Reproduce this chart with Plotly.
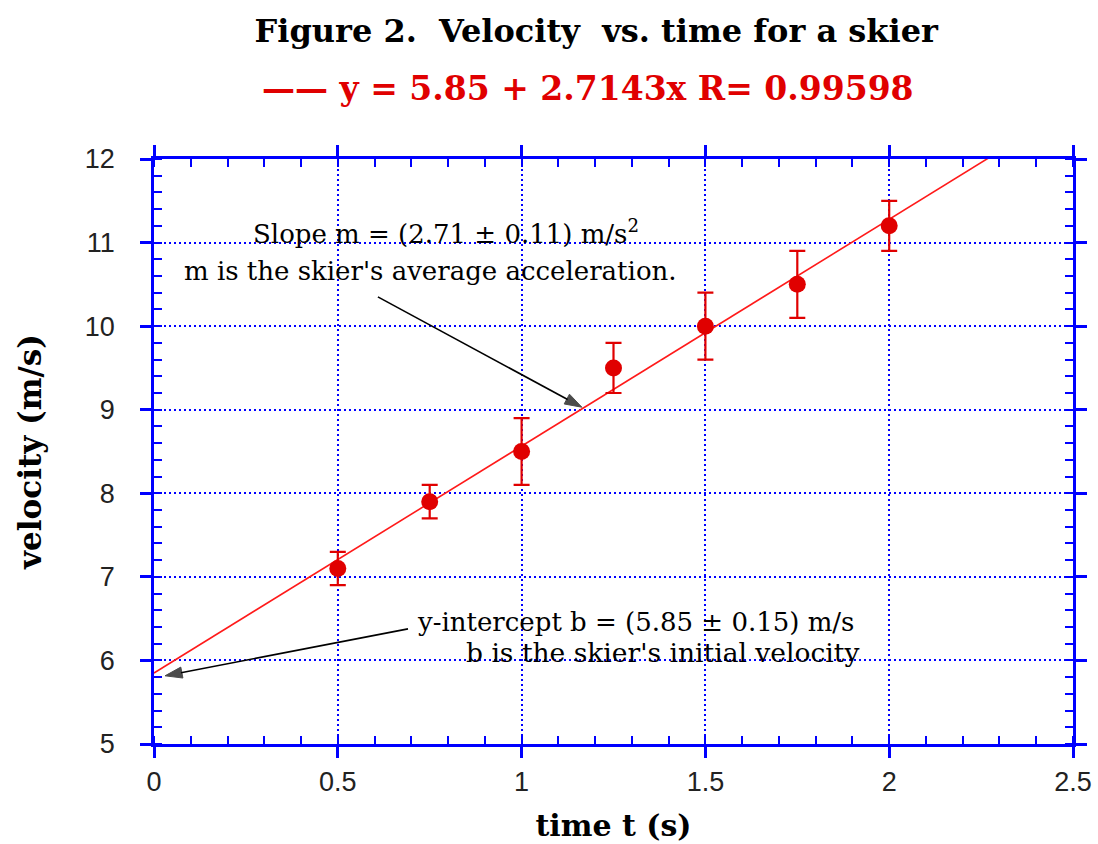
import plotly.graph_objects as go

# ---- data ----
time_s = [0.5, 0.75, 1.0, 1.25, 1.5, 1.75, 2.0]
velocity = [7.1, 7.9, 8.5, 9.5, 10.0, 10.5, 11.2]
velocity_err = [0.2, 0.2, 0.4, 0.3, 0.4, 0.4, 0.3]

fit_intercept = 5.85
fit_slope = 2.7143
fit_R = 0.99598
fit_x = [0.0, 2.5]
fit_y = [fit_intercept + fit_slope * t for t in fit_x]

x_ticks = [0, 0.5, 1, 1.5, 2, 2.5]
x_tick_labels = ["0", "0.5", "1", "1.5", "2", "2.5"]
y_ticks = [5, 6, 7, 8, 9, 10, 11, 12]
y_tick_labels = ["5", "6", "7", "8", "9", "10", "11", "12"]

# annotation arrows (tail -> head), in data units
slope_arrow_x = [0.609, 1.164]
slope_arrow_y = [10.35, 9.03]
icept_arrow_x = [0.691, 0.03]
icept_arrow_y = [6.378, 5.816]

RED = "#e00000"
BLUE = "#0000ff"
SERIF = "DejaVu Serif"
SANS = "Liberation Sans"

fig = go.Figure()

fig.add_trace(go.Scatter(
    x=fit_x, y=fit_y, mode="lines",
    line=dict(color="#ff1a1a", width=1.6),
    name=f"y = {fit_intercept} + {fit_slope}x R= {fit_R}",
    showlegend=False, hoverinfo="skip",
))

fig.add_trace(go.Scatter(
    x=time_s, y=velocity, mode="markers",
    marker=dict(color=RED, size=17, line=dict(width=0)),
    error_y=dict(type="data", array=velocity_err, color=RED, thickness=2.2, width=8),
    showlegend=False,
))

for ax_, ay_ in [(slope_arrow_x, slope_arrow_y), (icept_arrow_x, icept_arrow_y)]:
    fig.add_trace(go.Scatter(
        x=ax_, y=ay_, mode="lines+markers",
        line=dict(color="black", width=1.6),
        marker=dict(symbol="arrow", angleref="previous", size=[0, 18], color="black",
                    line=dict(color="black", width=1)),
        showlegend=False, hoverinfo="skip",
    ))

axis_common = dict(
    showline=True, linecolor=BLUE, linewidth=2.5, mirror="allticks",
    ticks="outside", ticklen=11, tickwidth=2.5, tickcolor=BLUE,
    showgrid=True, gridcolor=BLUE, gridwidth=1.6, griddash="2px,3px",
    zeroline=False, automargin=False,
    tickfont=dict(family=SANS, size=27, color="#222222"),
)

fig.update_xaxes(
    range=[0, 2.5], tickmode="array", tickvals=x_ticks, ticktext=x_tick_labels,
    minor=dict(ticks="inside", ticklen=8, tickwidth=2, tickcolor=BLUE, dtick=0.1, showgrid=False),
    title=dict(text="<b>time t (s)</b>", font=dict(family=SERIF, size=30, color="black"), standoff=19),
    ticklabelstandoff=1,
    **axis_common,
)
fig.update_yaxes(
    range=[5, 12], tickmode="array", tickvals=y_ticks, ticktext=y_tick_labels,
    minor=dict(ticks="inside", ticklen=8, tickwidth=2, tickcolor=BLUE, dtick=0.2, showgrid=False),
    title=dict(text="<b>velocity (m/s)</b>", font=dict(family=SERIF, size=31, color="black"), standoff=34),
    ticklabelstandoff=20,
    **axis_common,
)

# legend-like equation line
fig.add_annotation(
    xref="paper", yref="paper", x=0.472, y=1.121, xanchor="center", yanchor="middle",
    text=f"<b>\u2014\u2014 y = {fit_intercept} + {fit_slope}x R= {fit_R}</b>",
    showarrow=False, font=dict(family=SERIF, size=33, color=RED),
)

# slope annotation
fig.add_annotation(x=0.795, y=11.13, xanchor="center", yanchor="middle",
                   text="Slope m = (2.71 \u00b1 0.11) m/s<sup>2</sup>", showarrow=False,
                   font=dict(family=SERIF, size=26, color="black"))
fig.add_annotation(x=0.752, y=10.66, xanchor="center", yanchor="middle",
                   text="m is the skier's average acceleration.", showarrow=False,
                   font=dict(family=SERIF, size=26, color="black"))

# intercept annotation
fig.add_annotation(x=1.311, y=6.46, xanchor="center", yanchor="middle",
                   text="y-intercept b = (5.85 \u00b1 0.15) m/s", showarrow=False,
                   font=dict(family=SERIF, size=26, color="black"))
fig.add_annotation(x=1.382, y=6.10, xanchor="center", yanchor="middle",
                   text="b is the skier's initial velocity", showarrow=False,
                   font=dict(family=SERIF, size=26.5, color="black"))

fig.update_layout(
    width=1098, height=844,
    margin=dict(l=154, r=25, t=159, b=100),
    paper_bgcolor="white", plot_bgcolor="white",
    title=dict(text="<b>Figure 2.\u00a0 Velocity\u00a0 vs. time for a skier</b>",
               x=0.543, xref="container", xanchor="center",
               y=0.964, yref="container", yanchor="middle",
               font=dict(family=SERIF, size=32, color="black")),
    showlegend=False,
)

fig.write_html("out.html", config={"displayModeBar": False},
               post_script="document.body.style.margin='0px';")
